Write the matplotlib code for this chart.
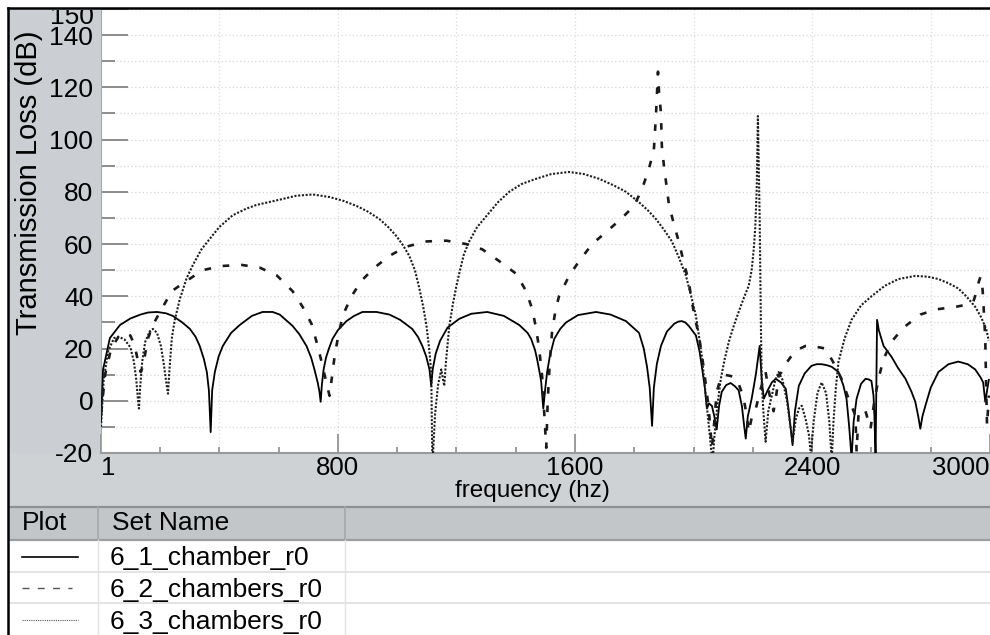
import matplotlib
matplotlib.use('Agg')
import matplotlib.pyplot as plt
from matplotlib.patches import Rectangle
from matplotlib.lines import Line2D
from matplotlib.ticker import FixedLocator
from matplotlib.transforms import Bbox, TransformedBbox

plt.rcParams['font.family'] = ['Liberation Sans', 'DejaVu Sans']

W, H = 990, 635

# 6_1_chamber_r0 (solid)
freq_1 = [1, 8, 31, 65, 100, 134, 160, 190, 220, 243, 275, 301, 320, 334, 348, 358, 365, 371,
          376, 385, 398, 412, 440, 469, 510, 546, 580, 604, 647, 670, 694, 710, 721, 732, 738, 742,
          746, 752, 760, 770, 782, 800, 829, 855, 883, 930, 974, 1010, 1051, 1070, 1085, 1098, 1109, 1115,
          1120, 1130, 1145, 1170, 1210, 1250, 1304, 1360, 1412, 1440, 1452, 1465, 1472, 1482, 1486, 1493,
          1500, 1506, 1515, 1530, 1550, 1570, 1610, 1671, 1720, 1772, 1816, 1832, 1843, 1852, 1860,
          1866, 1876, 1890, 1910, 1935, 1948, 1960, 1972, 1985, 2008, 2020, 2028, 2038, 2045, 2052, 2062,
          2070, 2078, 2086, 2095, 2110, 2125, 2140, 2152, 2163, 2170, 2176, 2183, 2196, 2210, 2223, 2230,
          2237, 2250, 2264, 2277, 2295, 2311, 2320, 2327, 2334, 2342, 2355, 2375, 2398, 2415, 2432, 2450,
          2466, 2489, 2505, 2516, 2525, 2533, 2540, 2550, 2565, 2580, 2590, 2600, 2607, 2610, 2614, 2619,
          2625, 2641, 2668, 2690, 2715, 2735, 2748, 2758, 2765, 2772, 2782, 2800, 2826, 2860, 2893,
          2925, 2950, 2968, 2977, 2984, 2989, 2996]
tl_1 = [-8, 12, 24, 29, 31.5, 33, 33.8, 34, 33.5, 32.5, 30, 27.5, 24.5, 21, 16, 11, 4, -12,
        4, 11, 17, 21, 26, 29, 32.5, 34, 34, 33, 28.7, 25.5, 21, 16.5, 12, 7, 3.4, -0.4,
        6, 12, 16.5, 20, 23.7, 27, 30.5, 32.5, 34, 34, 33, 31, 27.5, 24.5, 21, 17, 12, 5.7,
        12, 18, 23, 28, 31.4, 33.3, 34, 32.5, 29, 26, 23.7, 19.5, 16, 10, 7.3, -3,
        5, 11, 17, 23.7, 27.5, 30, 32.8, 34, 33, 30.5, 26, 20, 13, 5, -9.6,
        5, 14, 21, 26.5, 29.5, 30.3, 30.5, 30, 28.5, 25, 19, 13, 5, -3, -1, -2,
        -6, -11, -2, 3.4, 6, 6.8, 5.5, 4, -2, -9, -14.5, -6, 0.8, 10, 21, 8,
        0.8, 4, 7, 8.4, 7, 4.6, -3, -10, -17, -4, 5.7, 10.5, 13.4, 14, 14, 13.6,
        13, 11, 6, 0.8, -10, -22, -8, 0.8, 6.5, 8.4, 8.2, 7.6, 2, -5.7, -22, 31,
        27, 21, 16.8, 12.5, 8.4, 3.5, -0.4, -6, -10.7, -6, -1.9, 5, 11, 14, 15,
        14, 12, 9, 7, -0.4, 3, 8]

# 6_2_chambers_r0 (dashed)
freq_2 = [1, 15, 35, 60, 82, 100, 115, 126, 135, 142, 150, 160, 176, 200, 240, 291, 344, 408, 476,
          536, 594, 647, 681, 711, 728, 745, 762, 772, 780, 789, 800, 816, 846, 880, 924, 974, 1031,
          1099, 1166, 1233, 1287, 1344, 1402, 1435, 1456, 1469, 1479, 1489, 1498, 1503, 1508, 1515,
          1523, 1535, 1546, 1580, 1614, 1658, 1705, 1755, 1799, 1826, 1849, 1866, 1873, 1880, 1883,
          1890, 1893, 1900, 1917, 1935, 1950, 1967, 1984, 1994, 2008, 2018, 2035, 2051, 2062, 2070,
          2078, 2090, 2102, 2125, 2146, 2160, 2169, 2180, 2186, 2197, 2210, 2225, 2243, 2255, 2270,
          2280, 2287, 2297, 2310, 2328, 2350, 2378, 2400, 2422, 2445, 2470, 2499, 2523, 2540, 2546,
          2550, 2556, 2567, 2580, 2590, 2597, 2610, 2625, 2641, 2668, 2708, 2765, 2819, 2886, 2930,
          2944, 2955, 2962, 2968, 2973, 2977, 2984, 2987, 2990, 2996]
tl_2 = [-5, 10, 20, 24.5, 26, 25, 21, 15, 11, 13, 18, 24, 29, 34, 42, 46, 50, 51.6, 52,
        51, 48, 42, 36, 29.5, 22.6, 15, 6.5, 1.9, 9, 17, 24, 32.5, 40, 46, 51, 55.5, 59,
        61, 61.3, 60, 58, 53.5, 48.6, 42, 35, 27.5, 20, 9.6, -8, -18, 0, 15,
        27, 35, 40, 47.8, 53.5, 60, 64.6, 69.6, 74.6, 81, 88.7, 96, 109, 126, 119,
        110, 97.5, 90, 75, 67, 61, 53, 45.5, 38, 30, 25, 12, -3, -18, -8,
        3.4, 8, 10, 9.5, 8.4, 4, 0.8, -6, -12, -6, -3, 4, 11, 3, -4,
        3, 9.6, 11, 14, 16.8, 19.5, 21, 21.2, 20.5, 20, 15, 8.4, 0.8, -4, -5.7,
        -19.5, -6, -3, -4, -8, -10.7, 0, 9, 16, 22.6, 28, 33, 35, 36, 37,
        38, 42, 45.5, 47.5, 46, 39, 23.7, 5.7, -9.6, 2]

# 6_3_chambers_r0 (dotted)
freq_3 = [1, 10, 25, 45, 60, 80, 100, 112, 120, 126, 129, 133, 140, 150, 165, 176, 190, 203, 213,
          220, 227, 232, 240, 250, 267, 290, 311, 340, 368, 400, 445, 490, 526, 604, 660, 715, 772,
          820, 863, 900, 940, 970, 998, 1020, 1041, 1060, 1075, 1088, 1099, 1108, 1115, 1119, 1128,
          1138, 1149, 1155, 1159, 1164, 1176, 1188, 1200, 1210, 1225, 1243, 1270, 1301, 1340, 1378,
          1420, 1469, 1520, 1580, 1630, 1681, 1730, 1772, 1816, 1845, 1873, 1900, 1927, 1950, 1974,
          1992, 2008, 2018, 2028, 2036, 2045, 2052, 2058, 2064, 2070, 2080, 2092, 2105, 2119, 2135,
          2152, 2170, 2186, 2196, 2203, 2208, 2213, 2217, 2220, 2223, 2227, 2230, 2236, 2243, 2252,
          2264, 2276, 2287, 2300, 2315, 2326, 2334, 2345, 2355, 2365, 2378, 2389, 2396, 2405, 2418,
          2432, 2447, 2458, 2466, 2472, 2480, 2489, 2510, 2533, 2565, 2600, 2645, 2691, 2748, 2790,
          2826, 2860, 2893, 2920, 2950, 2970, 2987, 2996]
tl_3 = [-10, 8, 19, 24, 24.5, 23.5, 20.5, 15, 8, 0, -3, 5, 15, 22.5, 26.5, 27.5, 26, 21, 14,
        8, 2.7, 12, 24, 31, 39, 47, 52, 58, 62, 66.5, 71, 73.5, 75, 77, 78.5, 79, 78,
        76.5, 74.6, 72.5, 69.6, 66.5, 63, 59.5, 55.5, 50, 43, 36, 28.7, 20, 11, -25, -5,
        6, 12, 8, 5.7, 14, 28.7, 37, 44, 49, 56, 61, 66.5, 70.7, 76, 80,
        83, 85, 86.8, 87.6, 86.8, 85, 82.5, 80, 76, 73, 69.6, 65.5, 61, 55, 48,
        40, 32.5, 25, 17, 8, -2, -10, -17, -24, -14, -2, 8.4, 16, 22.6, 28.5,
        34, 39.5, 44, 50, 58, 66, 81, 109, 90, 70, 30, 7, -5, -15.7, -4,
        2, 8, 11, 8, 0, -9, -15.7, -7, -3, -1.9, -7, -13, -21, -8, 3,
        7, 3, -8, -23, -8, 5, 15, 24, 31, 36.5, 40, 44, 46.6, 47.8, 47.5,
        46.6, 45, 43, 40, 36, 32, 27.5, 23]

set_names = ['6_1_chamber_r0', '6_2_chambers_r0', '6_3_chambers_r0']
ytick_vals = [-20, 0, 20, 40, 60, 80, 100, 120, 140, 150]
ytick_labels = ['-20', '0', '20', '40', '60', '80', '100', '120', '140', '']
ytick_minor = [-10, 10, 30, 50, 70, 90, 110, 130]
xtick_vals = [1, 800, 1600, 2400, 3000]
xtick_labels = ['1', '800', '1600', '2400', '3000']


def fx(px):
    return px / W


def fy(py):
    return 1 - py / H


def box(fig, x0, y0, x1, y1, color):
    fig.add_artist(Rectangle((fx(x0), fy(y1)), fx(x1) - fx(x0), fy(y0) - fy(y1),
                             transform=fig.transFigure, facecolor=color,
                             edgecolor='none', zorder=-2))


def seg(fig, x0, y0, x1, y1, **kw):
    fig.add_artist(Line2D([fx(x0), fx(x1)], [fy(y0), fy(y1)],
                          transform=fig.transFigure, **kw))


def plot_tl():
    fig = plt.figure(figsize=(W / 100, H / 100), dpi=100)

    # grey panels around the plot and the legend table
    box(fig, 9, 9, 101, 455, '#cbced2')
    box(fig, 9, 453, 990, 507, '#cfd2d5')
    box(fig, 9, 507, 990, 540, '#c3c6c9')
    seg(fig, 9, 507, 990, 507, color='#8e9194', lw=1.6)
    seg(fig, 9, 540, 990, 540, color='#9c9fa2', lw=1.6)
    for y in [572, 603]:
        seg(fig, 9, y, 990, y, color='#dedede', lw=1.2)
    for x in [98, 345]:
        seg(fig, x, 507, x, 540, color='#a5a8ab', lw=1.2)
        seg(fig, x, 540, x, 635, color='#e2e2e2', lw=1.0)

    ax = fig.add_axes([fx(101), fy(453), fx(990) - fx(101), fy(9) - fy(453)])
    ax.plot(freq_1, tl_1, color='black', lw=1.3, zorder=3)
    ax.plot(freq_2, tl_2, color='#1a1a1a', lw=1.9, dashes=(2.5, 4.5), zorder=3)
    ax.plot(freq_3, tl_3, color='#1e1e1e', lw=1.5, dashes=(1, 0.8), zorder=3)

    ax.set_xlim(1, 3000)
    ax.set_ylim(-20, 150)

    ax.yaxis.set_major_locator(FixedLocator(ytick_vals))
    ax.yaxis.set_minor_locator(FixedLocator(ytick_minor))
    ax.set_yticklabels(ytick_labels)
    ax.xaxis.set_major_locator(FixedLocator(xtick_vals))
    ax.xaxis.set_minor_locator(FixedLocator(list(range(200, 3000, 200))))
    ax.set_xticklabels(xtick_labels)

    tick_col = '#8c8c8c'
    ax.tick_params(axis='y', which='major', direction='in', length=19.5, width=1.4,
                   color=tick_col, pad=5.5, labelsize=19)
    ax.tick_params(axis='y', which='minor', direction='in', length=10, width=1.4, color=tick_col)
    ax.tick_params(axis='x', which='major', direction='in', length=14, width=1.2,
                   color=tick_col, pad=2, labelsize=18.5)
    ax.tick_params(axis='x', which='minor', direction='in', length=4.5, width=1.2, color=tick_col)
    ax.get_xticklabels()[0].set_ha('left')
    ax.get_xticklabels()[-1].set_ha('right')

    # "150" sits half under the window frame, overlapping "140"
    clip = TransformedBbox(Bbox.from_extents(fx(9), fy(455), fx(101), fy(10)), fig.transFigure)
    fig.text(fx(94), fy(17), '150', ha='right', va='center', fontsize=19,
             clip_box=clip, clip_on=True)

    ax.grid(axis='y', which='both', color='#d6d6d6', lw=0.9, ls=(0, (1, 2)))
    for v in range(400, 3000, 400):
        ax.axvline(v, color='#dcdcdc', lw=0.9, ls=(0, (1, 2)), zorder=1)

    for s in ['top', 'right']:
        ax.spines[s].set_visible(False)
    ax.spines['left'].set_color('#a8a8a8')
    ax.spines['bottom'].set_color('#9a9a9a')
    ax.spines['bottom'].set_linewidth(1.5)

    fig.text(fx(29), fy(183), 'Transmission Loss (dB)', rotation=90,
             ha='center', va='center', fontsize=21)
    fig.text(fx(532), fy(491), 'frequency (hz)', ha='center', va='center', fontsize=17.5)

    # legend table
    fig.text(fx(22), fy(530), 'Plot', ha='left', va='baseline', fontsize=19)
    fig.text(fx(112), fy(530), 'Set Name', ha='left', va='baseline', fontsize=19)
    rows = [565.5, 597, 628.5]
    for name, yb in zip(set_names, rows):
        fig.text(fx(110), fy(yb), name, ha='left', va='baseline', fontsize=19)
    seg(fig, 22, 557, 78, 557, color='black', lw=1.2)
    seg(fig, 22, 588, 72, 588, color='#555555', lw=1.0, dashes=(5, 6))
    seg(fig, 22, 620, 78, 620, color='#555555', lw=0.8, dashes=(1, 1))

    # black window frame
    seg(fig, 8, 8, 990, 8, color='black', lw=1.8, zorder=5)
    seg(fig, 8, 8, 8, 635, color='black', lw=1.8, zorder=5)

    fig.savefig('out.png', dpi=100)


if __name__ == "__main__":
    plot_tl()
